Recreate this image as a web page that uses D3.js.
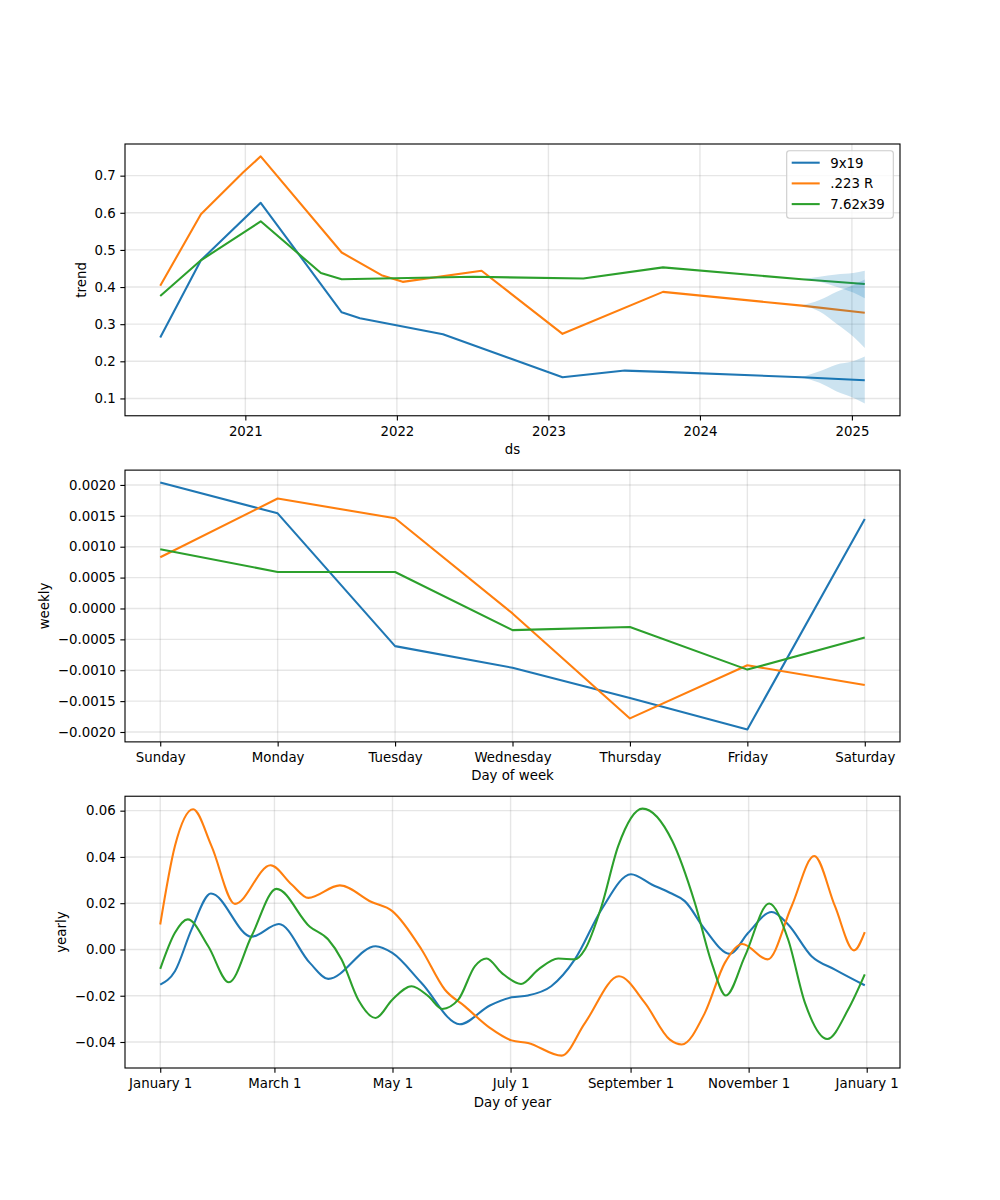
<!DOCTYPE html>
<html>
<head>
<meta charset="utf-8">
<script src="https://cdn.jsdelivr.net/npm/d3@7"></script>
<style>
  html, body { margin: 0; padding: 0; background: #ffffff; }
  svg { display: block; }
  text { font-family: "DejaVu Sans", sans-serif; fill: #000; }
</style>
</head>
<body>
<svg id="chart" width="1000" height="1200"></svg>
<script>
// ---------------- DATA ----------------
const seriesNames = ["9x19", ".223 R", "7.62x39"];
const seriesColors = ["#1f77b4", "#ff7f0e", "#2ca02c"];

// Trend (ds vs trend)
const trendDates9x19 = ["2020-06-10","2020-09-16","2021-02-07","2021-08-21","2021-10-04","2022-04-22","2023-02-04","2023-07-04","2023-10-04","2024-09-02","2025-02-01"];
const trend9x19      = [0.264, 0.472, 0.627, 0.332, 0.316, 0.273, 0.157, 0.175, 0.1715, 0.157, 0.149];
const trendDates223  = ["2020-06-10","2020-09-16","2020-12-27","2021-02-07","2021-08-21","2021-11-25","2022-01-15","2022-07-24","2023-02-04","2023-10-04","2024-09-02","2025-02-01"];
const trend223       = [0.4035, 0.596, 0.709, 0.752, 0.493, 0.432, 0.414, 0.444, 0.274, 0.387, 0.350, 0.331];
const trendDates762  = ["2020-06-10","2020-09-16","2021-02-07","2021-07-02","2021-08-21","2022-07-04","2023-03-26","2023-10-04","2024-09-02","2025-02-01"];
const trend762       = [0.376, 0.472, 0.577, 0.438, 0.421, 0.4276, 0.423, 0.453, 0.421, 0.408];

// Uncertainty band of the trend (forecast part)
const bandDates      = ["2024-09-02","2024-10-15","2024-11-24","2025-01-04","2025-02-01"];
const bandUpper9x19  = [0.157, 0.173, 0.191, 0.200, 0.213];
const bandLower9x19  = [0.157, 0.142, 0.1196, 0.102, 0.0866];
const bandUpper223   = [0.350, 0.365, 0.387, 0.405, 0.420];
const bandLower223   = [0.350, 0.334, 0.302, 0.267, 0.236];
const bandUpper762   = [0.421, 0.428, 0.434, 0.438, 0.444];
const bandLower762   = [0.421, 0.414, 0.401, 0.385, 0.370];

const trendTicks = [0.1, 0.2, 0.3, 0.4, 0.5, 0.6, 0.7];

// Weekly
const weekDays   = ["Sunday","Monday","Tuesday","Wednesday","Thursday","Friday","Saturday"];
const weekly9x19 = [0.00204, 0.00154, -0.00061, -0.00096, -0.00145, -0.00196, 0.00145];
const weekly223  = [0.00083, 0.00178, 0.00146, -0.00008, -0.00178, -0.00092, -0.00124];
const weekly762  = [0.00096, 0.00059, 0.00059, -0.00035, -0.00030, -0.00099, -0.00047];
const weeklyTicks = [-0.002, -0.0015, -0.001, -0.0005, 0, 0.0005, 0.001, 0.0015, 0.002];

// Yearly (day of year, 0 = January 1)
const yearDays9x19 = [0, 7.6, 16.2, 26.2, 47.2, 61.3, 77.3, 86.8, 111.3, 119.9, 135, 154.8, 170.3, 181.5, 190, 202, 214.2, 228, 243.2, 253.9, 263.3, 271, 281.4, 294.3, 303.8, 315.9, 324.4, 336.5, 348.6, 364];
const yearly9x19   = [-0.0152, -0.0094, 0.0087, 0.0242, 0.0055, 0.0110, -0.0058, -0.0127, 0.0014, -0.0015, -0.0145, -0.0323, -0.0242, -0.0207, -0.0199, -0.0159, -0.0043, 0.0173, 0.0325, 0.0281, 0.0245, 0.0209, 0.0087, -0.0019, 0.0072, 0.0162, 0.0108, -0.0029, -0.0087, -0.0155];
const yearDays223  = [0, 7.6, 17, 26.5, 38.6, 57, 67.9, 76.5, 92.8, 109.2, 119.9, 135, 147, 157.4, 170.3, 181.5, 190, 207.4, 219.4, 237, 250.4, 263.3, 269.4, 281.4, 291.7, 300.7, 313.8, 326.2, 337.9, 348.6, 358.4, 364];
const yearly223    = [0.0108, 0.0447, 0.0606, 0.0447, 0.0197, 0.0364, 0.0281, 0.0223, 0.0277, 0.0205, 0.0166, 0.0000, -0.0173, -0.0246, -0.0339, -0.0393, -0.0404, -0.0459, -0.0318, -0.0116, -0.0231, -0.0390, -0.0411, -0.0274, -0.0058, 0.0024, -0.0043, 0.0187, 0.0404, 0.0187, -0.0004, 0.0075];
const yearDays762  = [0, 7.6, 14.2, 24.8, 35.5, 47.2, 60.1, 77.3, 86.8, 93.7, 102.3, 111.3, 119.9, 129.9, 138.5, 145.7, 154, 162.6, 168.6, 176.4, 186.4, 195.3, 205.6, 214.2, 219.4, 228, 236.6, 249.2, 264.5, 276.2, 284.9, 292.3, 302.1, 314.6, 324.4, 333.1, 344.6, 355.4, 364];
const yearly762    = [-0.0084, 0.0072, 0.0130, 0.0014, -0.0142, 0.0058, 0.0262, 0.0098, 0.0043, -0.0043, -0.0217, -0.0296, -0.0217, -0.0159, -0.0202, -0.0257, -0.0217, -0.0072, -0.0039, -0.0101, -0.0149, -0.0087, -0.0039, -0.0043, 0.0000, 0.0187, 0.0447, 0.0609, 0.0470, 0.0202, -0.0058, -0.0199, -0.0029, 0.0199, 0.0043, -0.0231, -0.0387, -0.0260, -0.0108];
const yearlyTicks = [-0.04, -0.02, 0, 0.02, 0.04, 0.06];
const yearTickDays   = [0, 59, 120, 181, 243, 304, 365];
const yearTickLabels = ["January 1","March 1","May 1","July 1","September 1","November 1","January 1"];

// ---------------- LAYOUT ----------------
const FS = 13.333;
const LW = 2.08;      // 1.5 pt line width
const SW = 1.11;      // 0.8 pt spine / tick width
const left = 125, right = 900;
const panelH = 924 / 3.4, gap = panelH * 0.2;
const tops = [144, 144 + panelH + gap, 144 + 2 * (panelH + gap)];
const tickLen = 4.667, tickPad = 4.667;

const svg = d3.select("#chart");
svg.append("rect").attr("width", 1000).attr("height", 1200).attr("fill", "#fff");

function pad(ext, f = 0.05) {
  const d = ext[1] - ext[0];
  return [ext[0] - d * f, ext[1] + d * f];
}

function drawPanel(idx, xScale, yScale, xTickVals, xTickFmt, yTickVals, yTickFmt, xLabel, yLabel) {
  const top = tops[idx], bottom = top + panelH;
  const g = svg.append("g");
  // grid
  const grid = g.append("g").attr("class", "grid");
  xTickVals.forEach(v => {
    grid.append("line").attr("x1", xScale(v)).attr("x2", xScale(v))
      .attr("y1", top).attr("y2", bottom)
      .attr("stroke", "#808080").attr("stroke-opacity", 0.2).attr("stroke-width", 1.39);
  });
  yTickVals.forEach(v => {
    grid.append("line").attr("x1", left).attr("x2", right)
      .attr("y1", yScale(v)).attr("y2", yScale(v))
      .attr("stroke", "#808080").attr("stroke-opacity", 0.2).attr("stroke-width", 1.39);
  });
  const content = g.append("g");
  // axes
  const xa = g.append("g").attr("transform", `translate(0,${bottom})`)
    .call(d3.axisBottom(xScale).tickValues(xTickVals).tickFormat(xTickFmt).tickSize(tickLen).tickPadding(tickPad));
  const ya = g.append("g").attr("transform", `translate(${left},0)`)
    .call(d3.axisLeft(yScale).tickValues(yTickVals).tickFormat(yTickFmt).tickSize(tickLen).tickPadding(tickPad));
  [xa, ya].forEach(a => {
    a.select(".domain").remove();
    a.selectAll("line").attr("stroke", "#000").attr("stroke-width", SW);
    a.selectAll("text").attr("font-size", FS).attr("font-family", "DejaVu Sans").attr("fill", "#000");
  });
  xa.selectAll("text").attr("dy", "0.79em");
  // frame
  g.append("rect").attr("x", left).attr("y", top).attr("width", right - left).attr("height", bottom - top)
    .attr("fill", "none").attr("stroke", "#000").attr("stroke-width", SW);
  // labels
  let minX = left;
  ya.selectAll("text").each(function () { const b = this.getBBox(); minX = Math.min(minX, left + b.x); });
  g.append("text").attr("transform", `translate(${minX - 5.33 - 3.2},${(top + bottom) / 2}) rotate(-90)`)
    .attr("text-anchor", "middle").attr("font-size", FS).text(yLabel);
  g.append("text").attr("x", (left + right) / 2).attr("y", bottom + 38.5)
    .attr("text-anchor", "middle").attr("font-size", FS).text(xLabel);
  return content;
}

const parse = d3.utcParse("%Y-%m-%d");

// ---------------- PANEL 1: TREND ----------------
(function () {
  const allDates = [].concat(trendDates9x19, trendDates223, trendDates762, bandDates).map(parse);
  const allVals = [].concat(trend9x19, trend223, trend762, bandUpper9x19, bandLower9x19, bandUpper223, bandLower223, bandUpper762, bandLower762);
  const xd = pad(d3.extent(allDates, d => +d));
  const yd = pad(d3.extent(allVals));
  const top = tops[0], bottom = top + panelH;
  const x = d3.scaleUtc().domain(xd.map(v => new Date(v))).range([left, right]);
  const y = d3.scaleLinear().domain(yd).range([bottom, top]);
  const xTicks = [2021, 2022, 2023, 2024, 2025].map(yr => new Date(Date.UTC(yr, 0, 1)));
  const content = drawPanel(0, x, y, xTicks, d3.utcFormat("%Y"), trendTicks, d3.format(".1f"), "ds", "trend");

  const line = d3.line().x(d => x(d[0])).y(d => y(d[1]));
  const sets = [[trendDates9x19, trend9x19], [trendDates223, trend223], [trendDates762, trend762]];
  sets.forEach((s, i) => {
    const pts = s[0].map((d, j) => [parse(d), s[1][j]]);
    content.append("path").attr("d", line(pts)).attr("fill", "none")
      .attr("stroke", seriesColors[i]).attr("stroke-width", LW).attr("stroke-linejoin", "round");
  });
  const bands = [[bandUpper9x19, bandLower9x19], [bandUpper223, bandLower223], [bandUpper762, bandLower762]];
  const area = d3.area().x(d => x(d[0])).y0(d => y(d[1])).y1(d => y(d[2])).curve(d3.curveMonotoneX);
  bands.forEach(b => {
    const pts = bandDates.map((d, j) => [parse(d), b[1][j], b[0][j]]);
    content.append("path").attr("d", area(pts)).attr("fill", "#0072B2").attr("fill-opacity", 0.2).attr("stroke", "none");
  });

  // legend
  const lg = svg.append("g");
  const bx = 786.7, by = 150.7, bw = 106.6, bh = 67.6;
  lg.append("rect").attr("x", bx).attr("y", by).attr("width", bw).attr("height", bh)
    .attr("rx", 2.7).attr("fill", "#fff").attr("fill-opacity", 0.8)
    .attr("stroke", "#cccccc").attr("stroke-width", 1.11);
  seriesNames.forEach((n, i) => {
    const cy = 162.7 + i * 20.7;
    lg.append("line").attr("x1", bx + 5).attr("x2", bx + 33).attr("y1", cy).attr("y2", cy)
      .attr("stroke", seriesColors[i]).attr("stroke-width", LW);
    lg.append("text").attr("x", bx + 43.5).attr("y", cy + 4.8).attr("font-size", FS).text(n);
  });
})();

// ---------------- PANEL 2: WEEKLY ----------------
(function () {
  const top = tops[1], bottom = top + panelH;
  const idx = weekDays.map((d, i) => i);
  const x = d3.scaleLinear().domain(pad([0, weekDays.length - 1])).range([left, right]);
  const y = d3.scaleLinear().domain(pad(d3.extent([].concat(weekly9x19, weekly223, weekly762)))).range([bottom, top]);
  const content = drawPanel(1, x, y, idx, i => weekDays[i], weeklyTicks, d3.format(".4f"), "Day of week", "weekly");
  const line = d3.line().x((d, i) => x(i)).y(d => y(d));
  [weekly9x19, weekly223, weekly762].forEach((s, i) => {
    content.append("path").attr("d", line(s)).attr("fill", "none")
      .attr("stroke", seriesColors[i]).attr("stroke-width", LW).attr("stroke-linejoin", "round");
  });
})();

// ---------------- PANEL 3: YEARLY ----------------
(function () {
  const top = tops[2], bottom = top + panelH;
  const x = d3.scaleLinear().domain(pad([0, 364])).range([left, right]);
  const y = d3.scaleLinear().domain(pad(d3.extent([].concat(yearly9x19, yearly223, yearly762)))).range([bottom, top]);
  const content = drawPanel(2, x, y, yearTickDays, (d, i) => yearTickLabels[i], yearlyTicks, d3.format(".2f"), "Day of year", "yearly");
  const line = d3.line().x(d => x(d[0])).y(d => y(d[1])).curve(d3.curveMonotoneX);
  [[yearDays9x19, yearly9x19], [yearDays223, yearly223], [yearDays762, yearly762]].forEach((s, i) => {
    const pts = s[0].map((d, j) => [d, s[1][j]]);
    content.append("path").attr("d", line(pts)).attr("fill", "none")
      .attr("stroke", seriesColors[i]).attr("stroke-width", LW).attr("stroke-linejoin", "round");
  });
})();
</script>
</body>
</html>
